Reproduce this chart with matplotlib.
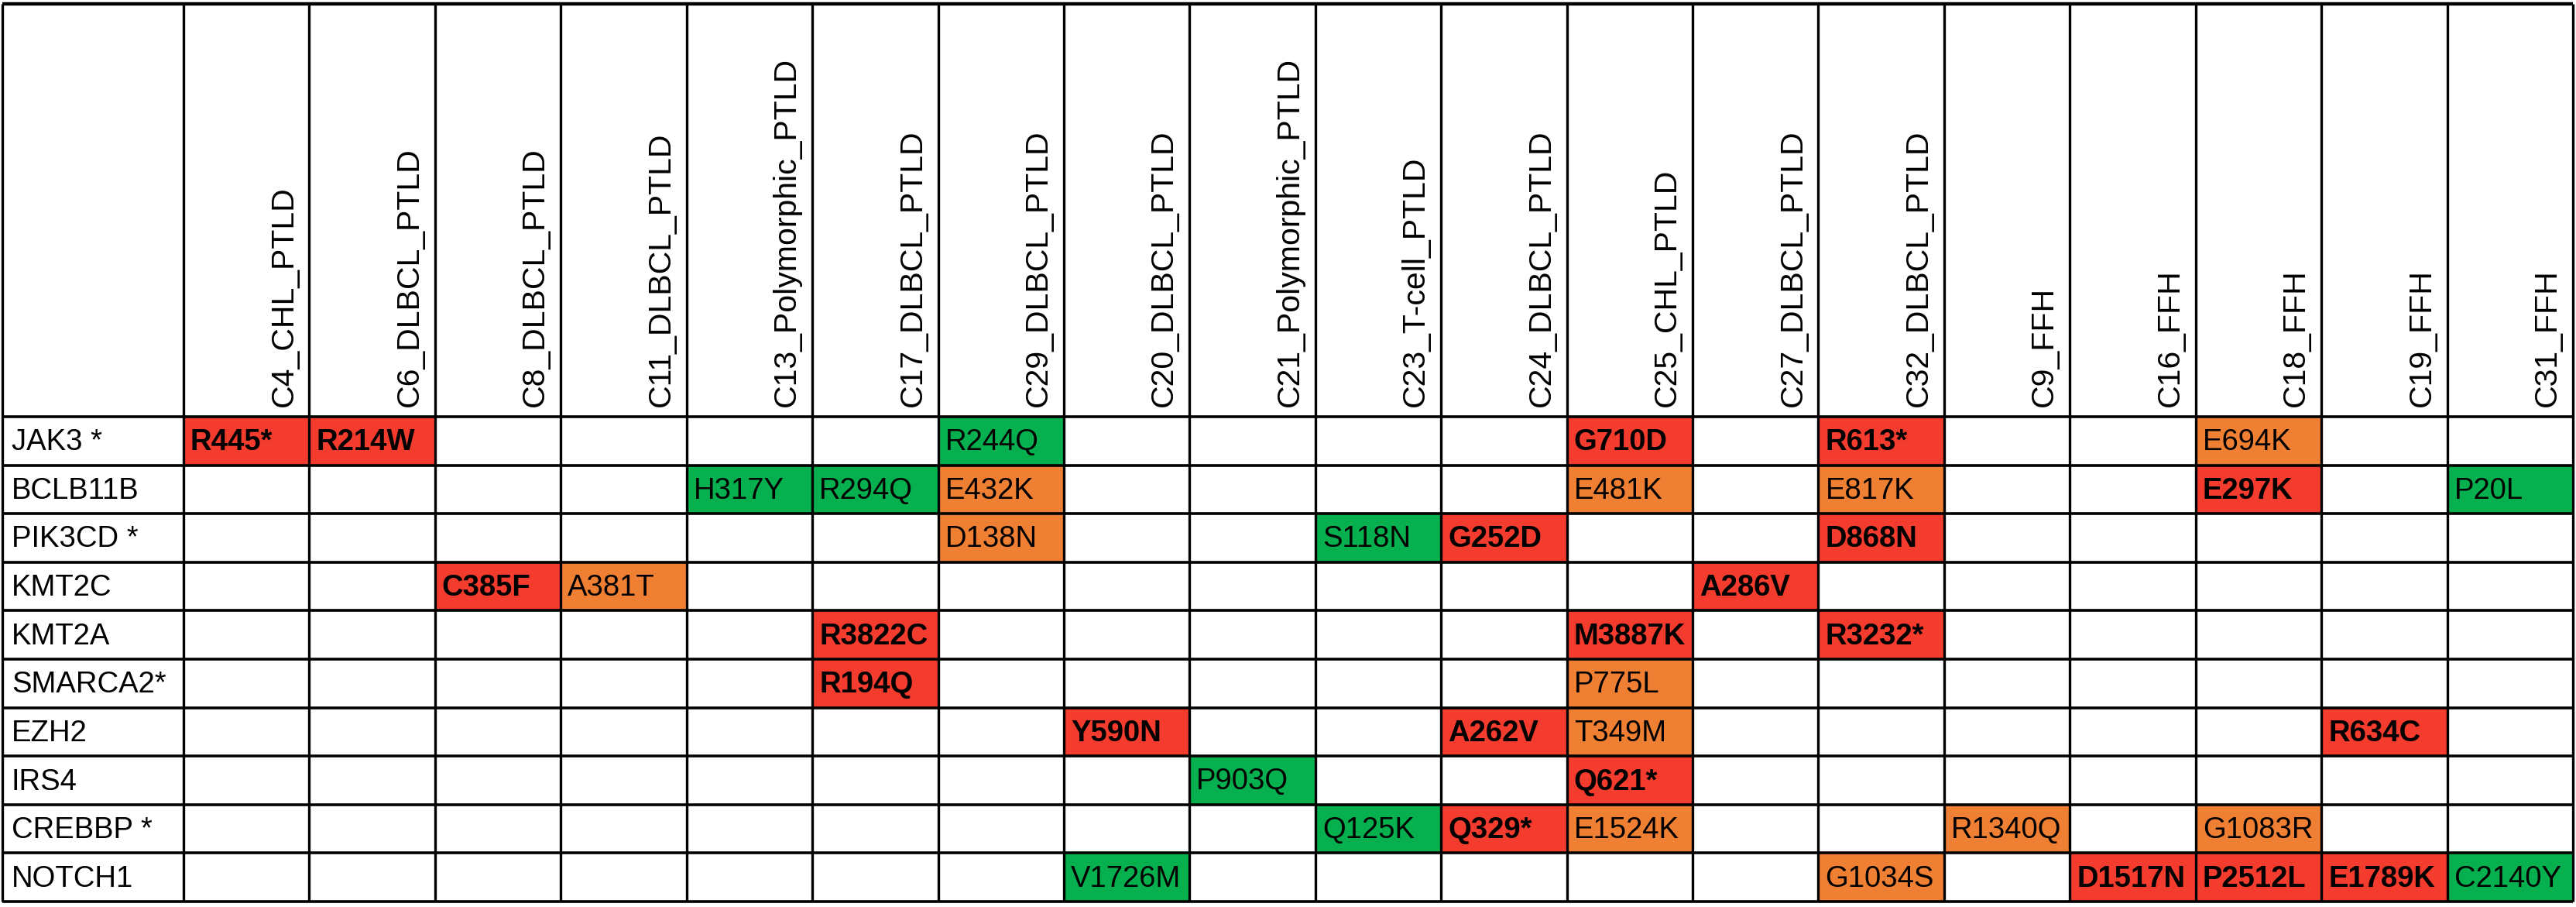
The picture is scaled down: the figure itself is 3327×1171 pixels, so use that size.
import matplotlib
matplotlib.use("Agg")
import matplotlib.pyplot as plt
from matplotlib import font_manager
from matplotlib.patches import Rectangle

# samples (columns) and genes (rows)
samples = ['C4_CHL_PTLD', 'C6_DLBCL_PTLD', 'C8_DLBCL_PTLD', 'C11_DLBCL_PTLD',
           'C13_Polymorphic_PTLD', 'C17_DLBCL_PTLD', 'C29_DLBCL_PTLD',
           'C20_DLBCL_PTLD', 'C21_Polymorphic_PTLD', 'C23_T-cell_PTLD',
           'C24_DLBCL_PTLD', 'C25_CHL_PTLD', 'C27_DLBCL_PTLD', 'C32_DLBCL_PTLD',
           'C9_FFH', 'C16_FFH', 'C18_FFH', 'C19_FFH', 'C31_FFH']
genes = ['JAK3 *', 'BCLB11B', 'PIK3CD *', 'KMT2C', 'KMT2A', 'SMARCA2*',
         'EZH2', 'IRS4', 'CREBBP *', 'NOTCH1']

# one entry per mutation: gene, sample, protein change, colour class
mut_gene = ['JAK3 *', 'JAK3 *', 'JAK3 *', 'JAK3 *', 'JAK3 *', 'JAK3 *',
            'BCLB11B', 'BCLB11B', 'BCLB11B', 'BCLB11B', 'BCLB11B', 'BCLB11B', 'BCLB11B',
            'PIK3CD *', 'PIK3CD *', 'PIK3CD *', 'PIK3CD *',
            'KMT2C', 'KMT2C', 'KMT2C',
            'KMT2A', 'KMT2A', 'KMT2A',
            'SMARCA2*', 'SMARCA2*',
            'EZH2', 'EZH2', 'EZH2', 'EZH2',
            'IRS4', 'IRS4',
            'CREBBP *', 'CREBBP *', 'CREBBP *', 'CREBBP *', 'CREBBP *',
            'NOTCH1', 'NOTCH1', 'NOTCH1', 'NOTCH1', 'NOTCH1', 'NOTCH1']
mut_sample = ['C4_CHL_PTLD', 'C6_DLBCL_PTLD', 'C29_DLBCL_PTLD', 'C25_CHL_PTLD', 'C32_DLBCL_PTLD', 'C18_FFH',
              'C13_Polymorphic_PTLD', 'C17_DLBCL_PTLD', 'C29_DLBCL_PTLD', 'C25_CHL_PTLD', 'C32_DLBCL_PTLD', 'C18_FFH', 'C31_FFH',
              'C29_DLBCL_PTLD', 'C23_T-cell_PTLD', 'C24_DLBCL_PTLD', 'C32_DLBCL_PTLD',
              'C8_DLBCL_PTLD', 'C11_DLBCL_PTLD', 'C27_DLBCL_PTLD',
              'C17_DLBCL_PTLD', 'C25_CHL_PTLD', 'C32_DLBCL_PTLD',
              'C17_DLBCL_PTLD', 'C25_CHL_PTLD',
              'C20_DLBCL_PTLD', 'C24_DLBCL_PTLD', 'C25_CHL_PTLD', 'C19_FFH',
              'C21_Polymorphic_PTLD', 'C25_CHL_PTLD',
              'C23_T-cell_PTLD', 'C24_DLBCL_PTLD', 'C25_CHL_PTLD', 'C9_FFH', 'C18_FFH',
              'C20_DLBCL_PTLD', 'C32_DLBCL_PTLD', 'C16_FFH', 'C18_FFH', 'C19_FFH', 'C31_FFH']
mut_label = ['R445*', 'R214W', 'R244Q', 'G710D', 'R613*', 'E694K',
             'H317Y', 'R294Q', 'E432K', 'E481K', 'E817K', 'E297K', 'P20L',
             'D138N', 'S118N', 'G252D', 'D868N',
             'C385F', 'A381T', 'A286V',
             'R3822C', 'M3887K', 'R3232*',
             'R194Q', 'P775L',
             'Y590N', 'A262V', 'T349M', 'R634C',
             'P903Q', 'Q621*',
             'Q125K', 'Q329*', 'E1524K', 'R1340Q', 'G1083R',
             'V1726M', 'G1034S', 'D1517N', 'P2512L', 'E1789K', 'C2140Y']
mut_class = ['red', 'red', 'green', 'red', 'red', 'orange',
             'green', 'green', 'orange', 'orange', 'orange', 'red', 'green',
             'orange', 'green', 'red', 'red',
             'red', 'orange', 'red',
             'red', 'red', 'red',
             'red', 'orange',
             'red', 'red', 'orange', 'red',
             'green', 'red',
             'green', 'red', 'orange', 'orange', 'orange',
             'green', 'orange', 'red', 'red', 'red', 'green']

fill = {'red': '#F33B2E', 'orange': '#EF8033', 'green': '#06B04F'}
weight = {'red': 'bold', 'orange': 'normal', 'green': 'normal'}

names = {f.name for f in font_manager.fontManager.ttflist}
font = 'Liberation Sans' if 'Liberation Sans' in names else 'DejaVu Sans'

# table layout in pixels
W, H = 3327, 1171
left, top = 3, 5
label_w = 234
col_w = (3323 - left - label_w) / len(samples)
head_h = 533
row_h = (1164 - top - head_h) / len(genes)

fig = plt.figure(figsize=(W / 100, H / 100), dpi=100)
ax = fig.add_axes([0, 0, 1, 1])
ax.set_xlim(0, W)
ax.set_ylim(H, 0)
ax.axis('off')


def col_x(i):
    return left + label_w + i * col_w


def row_y(j):
    return top + head_h + j * row_h


# coloured cells
for g, s, lab, c in zip(mut_gene, mut_sample, mut_label, mut_class):
    i = samples.index(s)
    j = genes.index(g)
    ax.add_patch(Rectangle((col_x(i), row_y(j)), col_w, row_h,
                           facecolor=fill[c], edgecolor='none', zorder=1))
    ax.text(col_x(i) + 9, row_y(j) + row_h / 2 + 2, lab, ha='left', va='center',
            fontsize=27.5, fontweight=weight[c], family=font, zorder=3)

# header labels, rotated and bottom aligned
for i, s in enumerate(samples):
    ax.text(col_x(i) + col_w - 22, top + head_h - 13, s, rotation=90,
            rotation_mode='anchor', ha='left', va='baseline',
            fontsize=29.5, family=font, zorder=3)

# gene labels
for j, g in enumerate(genes):
    ax.text(left + 12, row_y(j) + row_h / 2 + 2, g, ha='left', va='center',
            fontsize=27.5, family=font, zorder=3)

# grid
right = col_x(len(samples))
bottom = row_y(len(genes))
ax.hlines([row_y(j) for j in range(len(genes) + 1)], left, right,
          color='black', lw=2.6, zorder=2)
ax.hlines([top], left, right, color='black', lw=3.2, zorder=2)
ax.vlines([left] + [col_x(i) for i in range(len(samples) + 1)], top, bottom,
          color='black', lw=2.4, zorder=2)

fig.savefig('out.png', dpi=100, facecolor='white')
